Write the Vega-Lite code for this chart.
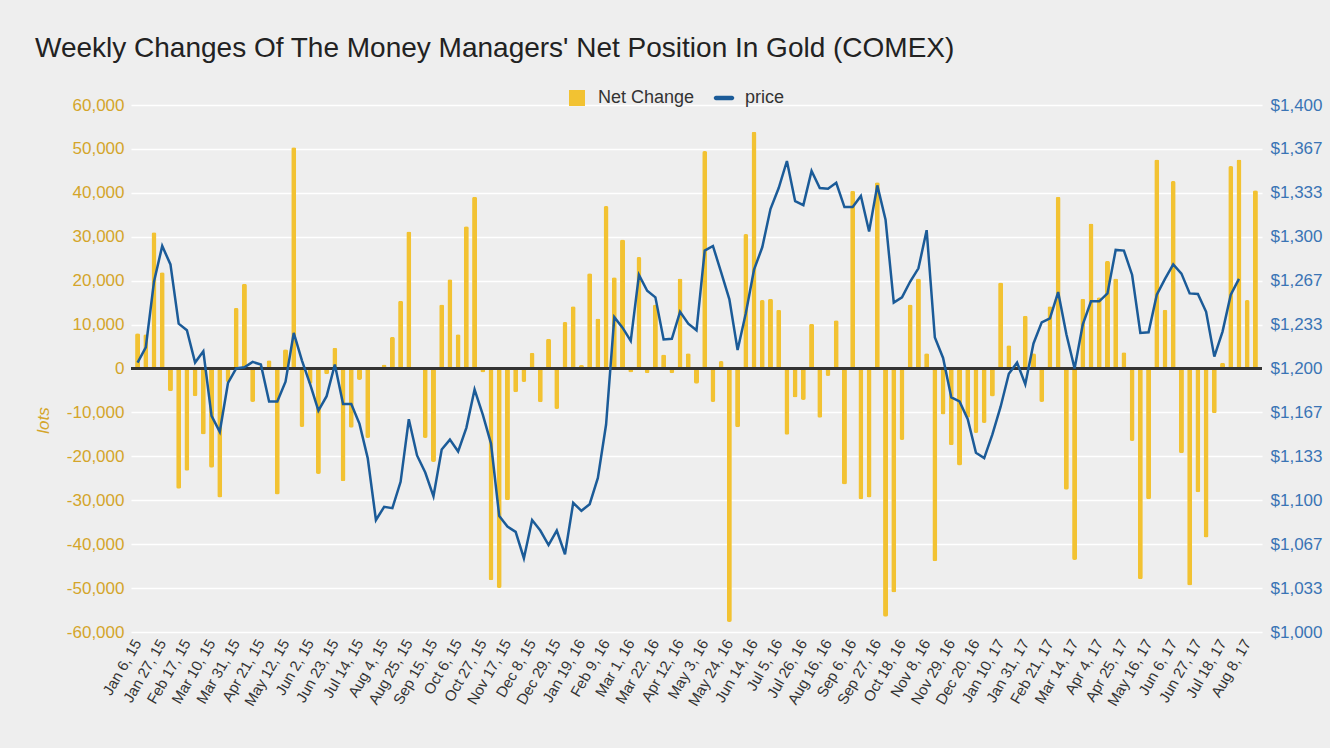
{
  "$schema": "https://vega.github.io/schema/vega-lite/v6.json",
  "width": 1131,
  "height": 527,
  "autosize": {"type": "none"},
  "padding": {"left": 131, "top": 105, "right": 68, "bottom": 116},
  "background": "#eeeeee",
  "config": {
    "view": {"stroke": null},
    "font": "Liberation Sans"
  },
  "title": {
    "text": "Weekly Changes Of The Money Managers' Net Position In Gold (COMEX)",
    "fontSize": 28,
    "fontWeight": "normal",
    "font": "Liberation Sans",
    "color": "#222222",
    "anchor": "start",
    "frame": "group",
    "dx": -96,
    "offset": 26
  },
  "data": {
    "values": [
      {"week": "Jan 6, 15", "net": 8000, "price": 1204.5},
      {"week": "Jan 13, 15", "net": 7800, "price": 1216},
      {"week": "Jan 20, 15", "net": 31000, "price": 1266},
      {"week": "Jan 27, 15", "net": 21900, "price": 1293},
      {"week": "Feb 3, 15", "net": -5200, "price": 1279},
      {"week": "Feb 10, 15", "net": -27400, "price": 1234},
      {"week": "Feb 17, 15", "net": -23300, "price": 1229},
      {"week": "Feb 24, 15", "net": -6300, "price": 1204.5},
      {"week": "Mar 3, 15", "net": -15000, "price": 1213},
      {"week": "Mar 10, 15", "net": -22600, "price": 1164},
      {"week": "Mar 17, 15", "net": -29400, "price": 1152},
      {"week": "Mar 24, 15", "net": -3100, "price": 1189},
      {"week": "Mar 31, 15", "net": 13800, "price": 1200},
      {"week": "Apr 7, 15", "net": 19300, "price": 1201},
      {"week": "Apr 14, 15", "net": -7600, "price": 1205},
      {"week": "Apr 21, 15", "net": 500, "price": 1203},
      {"week": "Apr 28, 15", "net": 1900, "price": 1175},
      {"week": "May 5, 15", "net": -28700, "price": 1175},
      {"week": "May 12, 15", "net": 4400, "price": 1190},
      {"week": "May 19, 15", "net": 50400, "price": 1227},
      {"week": "May 26, 15", "net": -13300, "price": 1206},
      {"week": "Jun 2, 15", "net": -3500, "price": 1188},
      {"week": "Jun 9, 15", "net": -24000, "price": 1168},
      {"week": "Jun 16, 15", "net": -1300, "price": 1179},
      {"week": "Jun 23, 15", "net": 4700, "price": 1203},
      {"week": "Jun 30, 15", "net": -25700, "price": 1173},
      {"week": "Jul 7, 15", "net": -13500, "price": 1173},
      {"week": "Jul 14, 15", "net": -2600, "price": 1158},
      {"week": "Jul 21, 15", "net": -15800, "price": 1132},
      {"week": "Jul 28, 15", "net": 300, "price": 1085},
      {"week": "Aug 4, 15", "net": 900, "price": 1095},
      {"week": "Aug 11, 15", "net": 7200, "price": 1094},
      {"week": "Aug 18, 15", "net": 15400, "price": 1114},
      {"week": "Aug 25, 15", "net": 31200, "price": 1161.5},
      {"week": "Sep 1, 15", "net": 200, "price": 1134},
      {"week": "Sep 8, 15", "net": -15800, "price": 1121},
      {"week": "Sep 15, 15", "net": -21300, "price": 1103},
      {"week": "Sep 22, 15", "net": 14600, "price": 1138.5},
      {"week": "Sep 29, 15", "net": 20300, "price": 1146},
      {"week": "Oct 6, 15", "net": 7800, "price": 1137},
      {"week": "Oct 13, 15", "net": 32400, "price": 1155},
      {"week": "Oct 20, 15", "net": 39100, "price": 1184},
      {"week": "Oct 27, 15", "net": -900, "price": 1165},
      {"week": "Nov 3, 15", "net": -48200, "price": 1143},
      {"week": "Nov 10, 15", "net": -50000, "price": 1088},
      {"week": "Nov 17, 15", "net": -30000, "price": 1080},
      {"week": "Nov 24, 15", "net": -5400, "price": 1076},
      {"week": "Dec 1, 15", "net": -3100, "price": 1056},
      {"week": "Dec 8, 15", "net": 3600, "price": 1085},
      {"week": "Dec 15, 15", "net": -7700, "price": 1077},
      {"week": "Dec 22, 15", "net": 6800, "price": 1066},
      {"week": "Dec 29, 15", "net": -9200, "price": 1077},
      {"week": "Jan 5, 16", "net": 10600, "price": 1059},
      {"week": "Jan 12, 16", "net": 14200, "price": 1098},
      {"week": "Jan 19, 16", "net": 800, "price": 1092},
      {"week": "Jan 26, 16", "net": 21700, "price": 1097},
      {"week": "Feb 2, 16", "net": 11400, "price": 1117},
      {"week": "Feb 9, 16", "net": 37000, "price": 1157.5},
      {"week": "Feb 16, 16", "net": 20800, "price": 1239},
      {"week": "Feb 23, 16", "net": 29400, "price": 1231},
      {"week": "Mar 1, 16", "net": -900, "price": 1221},
      {"week": "Mar 8, 16", "net": 25400, "price": 1271},
      {"week": "Mar 15, 16", "net": -1100, "price": 1259},
      {"week": "Mar 22, 16", "net": 14600, "price": 1254},
      {"week": "Mar 29, 16", "net": 3200, "price": 1222},
      {"week": "Apr 5, 16", "net": -1100, "price": 1222.5},
      {"week": "Apr 12, 16", "net": 20500, "price": 1243},
      {"week": "Apr 19, 16", "net": 3500, "price": 1234},
      {"week": "Apr 26, 16", "net": -3500, "price": 1229},
      {"week": "May 3, 16", "net": 49500, "price": 1289.5},
      {"week": "May 10, 16", "net": -7600, "price": 1293},
      {"week": "May 17, 16", "net": 1700, "price": 1273},
      {"week": "May 24, 16", "net": -57700, "price": 1252.5},
      {"week": "May 31, 16", "net": -13400, "price": 1214},
      {"week": "Jun 7, 16", "net": 30600, "price": 1242},
      {"week": "Jun 14, 16", "net": 53900, "price": 1275},
      {"week": "Jun 21, 16", "net": 15600, "price": 1292},
      {"week": "Jun 28, 16", "net": 15900, "price": 1321},
      {"week": "Jul 5, 16", "net": 13400, "price": 1337},
      {"week": "Jul 12, 16", "net": -15100, "price": 1357.5},
      {"week": "Jul 19, 16", "net": -6600, "price": 1327},
      {"week": "Jul 26, 16", "net": -7200, "price": 1324},
      {"week": "Aug 2, 16", "net": 10200, "price": 1350},
      {"week": "Aug 9, 16", "net": -11200, "price": 1337},
      {"week": "Aug 16, 16", "net": -1700, "price": 1336.5},
      {"week": "Aug 23, 16", "net": 11000, "price": 1341},
      {"week": "Aug 30, 16", "net": -26400, "price": 1322.5},
      {"week": "Sep 6, 16", "net": 40500, "price": 1322.5},
      {"week": "Sep 13, 16", "net": -29800, "price": 1331},
      {"week": "Sep 20, 16", "net": -29400, "price": 1304},
      {"week": "Sep 27, 16", "net": 42400, "price": 1339},
      {"week": "Oct 4, 16", "net": -56500, "price": 1313},
      {"week": "Oct 11, 16", "net": -51000, "price": 1250},
      {"week": "Oct 18, 16", "net": -16300, "price": 1254},
      {"week": "Oct 25, 16", "net": 14600, "price": 1266},
      {"week": "Nov 1, 16", "net": 20500, "price": 1276},
      {"week": "Nov 8, 16", "net": 3500, "price": 1305},
      {"week": "Nov 15, 16", "net": -43900, "price": 1223.5},
      {"week": "Nov 22, 16", "net": -10500, "price": 1208},
      {"week": "Nov 29, 16", "net": -17500, "price": 1178},
      {"week": "Dec 6, 16", "net": -22100, "price": 1175},
      {"week": "Dec 13, 16", "net": -11200, "price": 1161.5},
      {"week": "Dec 20, 16", "net": -14700, "price": 1136},
      {"week": "Dec 27, 16", "net": -12400, "price": 1132},
      {"week": "Jan 3, 17", "net": -6400, "price": 1150},
      {"week": "Jan 10, 17", "net": 19600, "price": 1171},
      {"week": "Jan 17, 17", "net": 5300, "price": 1196},
      {"week": "Jan 24, 17", "net": 500, "price": 1204.5},
      {"week": "Jan 31, 17", "net": 12000, "price": 1188},
      {"week": "Feb 7, 17", "net": 3500, "price": 1219},
      {"week": "Feb 14, 17", "net": -7600, "price": 1235},
      {"week": "Feb 21, 17", "net": 14200, "price": 1238},
      {"week": "Feb 28, 17", "net": 39100, "price": 1258},
      {"week": "Mar 7, 17", "net": -27600, "price": 1226},
      {"week": "Mar 14, 17", "net": -43600, "price": 1200},
      {"week": "Mar 21, 17", "net": 15900, "price": 1233.5},
      {"week": "Mar 28, 17", "net": 33000, "price": 1251},
      {"week": "Apr 4, 17", "net": 16200, "price": 1251},
      {"week": "Apr 11, 17", "net": 24500, "price": 1257},
      {"week": "Apr 18, 17", "net": 20500, "price": 1290},
      {"week": "Apr 25, 17", "net": 3700, "price": 1289.5},
      {"week": "May 2, 17", "net": -16500, "price": 1271},
      {"week": "May 9, 17", "net": -48000, "price": 1227},
      {"week": "May 16, 17", "net": -29800, "price": 1227.5},
      {"week": "May 23, 17", "net": 47600, "price": 1256},
      {"week": "May 30, 17", "net": 13400, "price": 1268},
      {"week": "Jun 6, 17", "net": 42700, "price": 1279},
      {"week": "Jun 13, 17", "net": -19300, "price": 1272},
      {"week": "Jun 20, 17", "net": -49400, "price": 1257},
      {"week": "Jun 27, 17", "net": -28200, "price": 1256.5},
      {"week": "Jul 4, 17", "net": -38500, "price": 1243},
      {"week": "Jul 11, 17", "net": -10200, "price": 1209},
      {"week": "Jul 18, 17", "net": 1300, "price": 1228},
      {"week": "Jul 25, 17", "net": 46100, "price": 1256},
      {"week": "Aug 1, 17", "net": 47600, "price": 1268},
      {"week": "Aug 8, 17", "net": 15600, "price": null},
      {"week": "Aug 15, 17", "net": 40600, "price": null}
    ]
  },
  "encoding": {
    "x": {
      "field": "week",
      "type": "ordinal",
      "sort": null,
      "scale": {"paddingInner": 0, "paddingOuter": 0.3},
      "axis": {
        "title": null,
        "domain": false,
        "ticks": false,
        "labelAngle": -60,
        "labelAlign": "right",
        "labelBaseline": "middle",
        "labelFontSize": 15,
        "labelColor": "#333333",
        "labelPadding": 8,
        "labelFont": "Liberation Sans",
        "values": ["Jan 6, 15", "Jan 27, 15", "Feb 17, 15", "Mar 10, 15", "Mar 31, 15", "Apr 21, 15", "May 12, 15", "Jun 2, 15", "Jun 23, 15", "Jul 14, 15", "Aug 4, 15", "Aug 25, 15", "Sep 15, 15", "Oct 6, 15", "Oct 27, 15", "Nov 17, 15", "Dec 8, 15", "Dec 29, 15", "Jan 19, 16", "Feb 9, 16", "Mar 1, 16", "Mar 22, 16", "Apr 12, 16", "May 3, 16", "May 24, 16", "Jun 14, 16", "Jul 5, 16", "Jul 26, 16", "Aug 16, 16", "Sep 6, 16", "Sep 27, 16", "Oct 18, 16", "Nov 8, 16", "Nov 29, 16", "Dec 20, 16", "Jan 10, 17", "Jan 31, 17", "Feb 21, 17", "Mar 14, 17", "Apr 4, 17", "Apr 25, 17", "May 16, 17", "Jun 6, 17", "Jun 27, 17", "Jul 18, 17", "Aug 8, 17"]
      }
    }
  },
  "layer": [
    {
      "layer": [
        {
          "mark": {"type": "bar", "size": 5, "cornerRadius": 2},
          "encoding": {
            "y": {
              "field": "net",
              "type": "quantitative",
              "scale": {"domain": [-60000, 60000], "nice": false},
              "axis": {
                "title": "lots",
                "titleFont": "Liberation Sans",
                "titleFontStyle": "italic",
                "titleFontWeight": "normal",
                "titleFontSize": 17,
                "titleColor": "#d4a52a",
                "titleX": -88,
                "titleY": 315,
                "titleAngle": -90,
                "titleAlign": "center",
                "titleBaseline": "middle",
                "values": [-60000, -50000, -40000, -30000, -20000, -10000, 0, 10000, 20000, 30000, 40000, 50000, 60000],
                "format": ",.0f",
                "labelExpr": "replace(datum.label, '\u2212', '-')",
                "labelFontSize": 17,
                "labelFont": "Liberation Sans",
                "labelColor": "#d4a52a",
                "labelPadding": 7,
                "domain": false,
                "ticks": false,
                "grid": true,
                "gridColor": "#ffffff",
                "gridWidth": 1.5
              }
            },
            "color": {
              "datum": "Net Change",
              "scale": {"domain": ["Net Change", "price"], "range": ["#f2c232", "#1b5b98"]},
              "legend": {
                "orient": "none",
                "legendX": 437,
                "legendY": -16,
                "direction": "horizontal",
                "title": null,
                "padding": 0,
                "symbolType": "square",
                "symbolSize": 256,
                "symbolStrokeWidth": 0,
                "labelFontSize": 18,
                "labelFont": "Liberation Sans",
                "labelColor": "#333333",
                "labelOffset": 12,
                "columnPadding": 18,
                "encoding": {
                  "symbols": {
                    "shape": {"condition": {"test": "datum.value === 'price'", "value": "M-1,-0.28H1A0.28,0.28 0 0 1 1,0.28H-1A0.28,0.28 0 0 1 -1,-0.28Z"}, "value": "square"}
                  }
                }
              }
            }
          }
        },
        {
          "mark": {"type": "rule", "color": "#333333", "strokeWidth": 2},
          "encoding": {
            "y": {"datum": 0, "type": "quantitative"},
            "x": {"value": 0},
            "x2": {"value": 1131}
          }
        }
      ]
    },
    {
      "mark": {"type": "line", "strokeWidth": 2.5, "interpolate": "linear"},
      "encoding": {
        "y": {
          "field": "price",
          "type": "quantitative",
          "scale": {"domain": [1000, 1400], "nice": false},
          "axis": {
            "orient": "right",
            "title": null,
            "values": [1000, 1033.333, 1066.667, 1100, 1133.333, 1166.667, 1200, 1233.333, 1266.667, 1300, 1333.333, 1366.667, 1400],
            "format": "$,.0f",
            "labelFontSize": 17,
            "labelFont": "Liberation Sans",
            "labelColor": "#3a74b5",
            "labelPadding": 8,
            "domain": false,
            "ticks": false,
            "grid": false
          }
        },
        "color": {"datum": "price"}
      }
    }
  ],
  "resolve": {"scale": {"y": "independent"}}
}
